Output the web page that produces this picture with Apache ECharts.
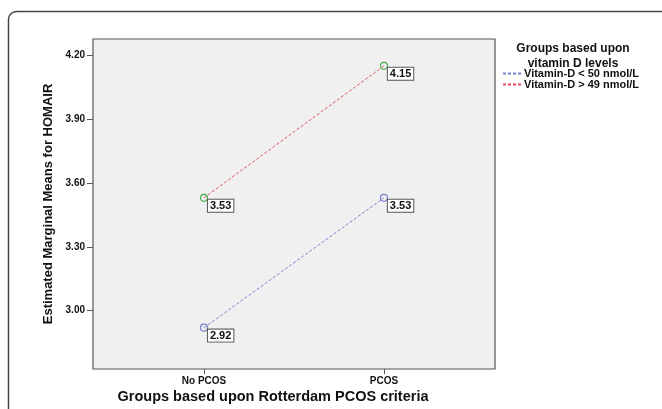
<!DOCTYPE html>
<html>
<head>
<meta charset="utf-8">
<script src="https://cdn.jsdelivr.net/npm/echarts@6/dist/echarts.min.js"></script>
<style>
  html, body { margin: 0; padding: 0; background: #fff; }
  #chart { width: 662px; height: 409px; }
</style>
</head>
<body>
<div id="chart"></div>
<script>
// groups on the x axis (0 = No PCOS, 1 = PCOS)
const categories = ['No PCOS', 'PCOS'];
const lowVitD = [2.92, 3.53];   // Vitamin-D < 50 nmol/L
const highVitD = [3.53, 4.15];  // Vitamin-D > 49 nmol/L
const yTicks = [3.00, 3.30, 3.60, 3.90, 4.20];

const FONT = '"Liberation Sans", Arial, sans-serif';

const chart = echarts.init(document.getElementById('chart'));

const toPoints = (vals) => vals.map((v, i) => [i, v]);

const labelStyle = {
  show: true,
  position: [8, 6],
  formatter: (p) => p.value[1].toFixed(2),
  fontFamily: FONT,
  fontWeight: 'bold',
  fontSize: 11,
  color: '#111',
  backgroundColor: '#fff',
  borderColor: '#555',
  borderWidth: 1,
  padding: [1, 2, 0, 2],
};

function lineSeries(name, vals, lineColor, markerColor) {
  return {
    name,
    type: 'line',
    data: toPoints(vals),
    symbol: 'circle',
    symbolSize: 7,
    lineStyle: { color: lineColor, width: 1, type: [3, 2] },
    itemStyle: { color: 'rgba(0,0,0,0)', borderColor: markerColor, borderWidth: 1.2 },
    label: labelStyle,
    emphasis: { disabled: true },
  };
}

const option = {
  animation: false,
  textStyle: { fontFamily: FONT },
  title: {
    text: 'Groups based upon\nvitamin D levels',
    left: 568,
    top: 36,
    textAlign: 'center',
    textStyle: { fontFamily: FONT, fontWeight: 'bold', fontSize: 12, lineHeight: 15, color: '#111' },
  },
  legend: {
    orient: 'vertical',
    left: 497,
    top: 63,
    itemWidth: 20,
    itemHeight: 8,
    itemGap: 0,
    itemStyle: { opacity: 0 },
    textStyle: { fontFamily: FONT, fontWeight: 'bold', fontSize: 11, lineHeight: 11, color: '#111', padding: [0, 0, 0, -4] },
    data: ['Vitamin-D < 50 nmol/L', 'Vitamin-D > 49 nmol/L'],
  },
  grid: {
    left: 93, top: 39, right: 167, bottom: 40,
    show: true,
    backgroundColor: '#f0f0f0',
    borderColor: '#555',
    borderWidth: 1.2,
  },
  xAxis: {
    type: 'value',
    min: -0.617,
    max: 1.617,
    axisLine: { show: false, onZero: false },
    splitLine: { show: false },
    axisTick: { show: true, length: 5, customValues: [0, 1], lineStyle: { color: '#555' } },
    axisLabel: {
      customValues: [0, 1],
      formatter: (v) => categories[Math.round(v)],
      fontFamily: FONT, fontWeight: 'bold', fontSize: 10, color: '#111', margin: 7,
    },
  },
  yAxis: {
    type: 'value',
    min: 2.726,
    max: 4.276,
    axisLine: { show: false, onZero: false },
    splitLine: { show: false },
    axisTick: { show: true, length: 6, customValues: yTicks, lineStyle: { color: '#555' } },
    axisLabel: {
      customValues: yTicks,
      formatter: (v) => v.toFixed(2),
      fontFamily: FONT, fontWeight: 'bold', fontSize: 10, color: '#111', margin: 8,
    },
    name: 'Estimated Marginal Means for HOMAIR',
    nameLocation: 'middle',
    nameGap: 35,
    nameTextStyle: { fontFamily: FONT, fontWeight: 'bold', fontSize: 13, color: '#111' },
  },
  graphic: [
    {
      type: 'rect',
      silent: true,
      shape: { x: 8.5, y: 11.5, width: 720, height: 520, r: 8 },
      style: { fill: 'none', stroke: '#444', lineWidth: 1.5 },
    },
    {
      type: 'text',
      silent: true,
      x: 273,
      y: 397,
      style: {
        text: 'Groups based upon Rotterdam PCOS criteria',
        fontFamily: FONT, fontWeight: 'bold', fontSize: 14.5, fill: '#111',
        align: 'center', verticalAlign: 'middle',
      },
    },
  ],
  series: [
    lineSeries('Vitamin-D < 50 nmol/L', lowVitD, '#7b82c9', '#7b82c9'),
    lineSeries('Vitamin-D > 49 nmol/L', highVitD, '#e8505a', '#4caf50'),
  ],
};

chart.setOption(option);
</script>
</body>
</html>
